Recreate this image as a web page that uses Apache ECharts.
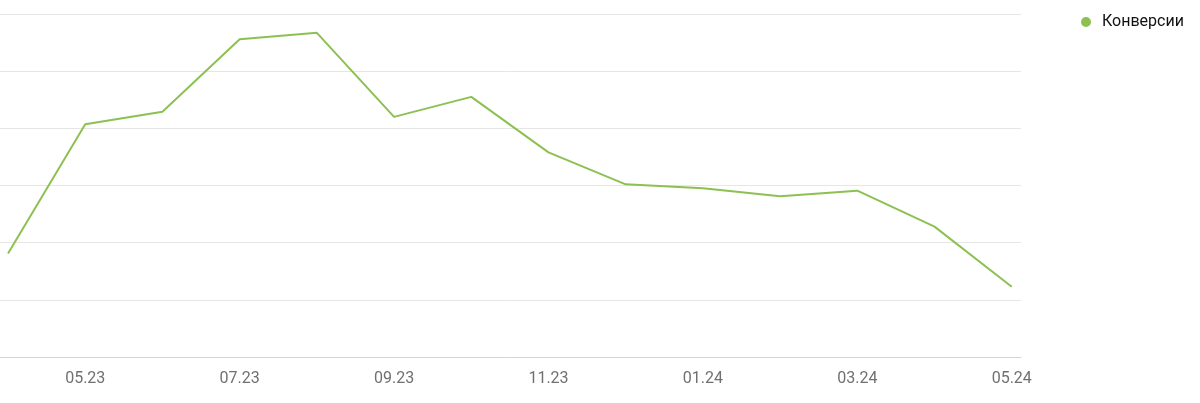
<!DOCTYPE html>
<html>
<head>
<meta charset="utf-8">
<script src="https://cdn.jsdelivr.net/npm/echarts@6/dist/echarts.min.js"></script>
<style>
html,body{margin:0;padding:0;background:#fff;}
#c{width:1200px;height:403px;}
</style>
</head>
<body>
<div id="c"></div>
<script>
const months = ['04.23','05.23','06.23','07.23','08.23','09.23','10.23','11.23','12.23','01.24','02.24','03.24','04.24','05.24'];
const conversions = [1.81, 4.07, 4.29, 5.56, 5.67, 4.20, 4.55, 3.58, 3.02, 2.95, 2.81, 2.91, 2.28, 1.23];
const labelIndices = [1, 3, 5, 7, 9, 11, 13];
const seriesName = 'Конверсии';

const chart = echarts.init(document.getElementById('c'), null, {renderer: 'canvas'});
chart.setOption({
  animation: false,
  textStyle: {fontFamily: 'Roboto'},
  grid: {left: 0, right: 179, top: 14, bottom: 46, containLabel: false},
  legend: {
    data: [seriesName],
    left: 1076, top: 9,
    icon: 'circle', itemWidth: 22, itemHeight: 10, itemGap: 6,
    textStyle: {color: '#111', fontSize: 16, fontFamily: 'Roboto'}
  },
  xAxis: {
    type: 'value',
    min: -0.104, max: 13.12,
    axisLine: {show: true, lineStyle: {color: '#ccd6eb', width: 1}},
    axisTick: {show: false},
    splitLine: {show: false},
    axisLabel: {
      customValues: labelIndices,
      formatter: v => months[Math.round(v)] || '',
      color: '#707070', fontSize: 16, margin: 14, fontFamily: 'Roboto'
    }
  },
  yAxis: {
    type: 'value', min: 0, max: 6, interval: 1,
    axisLine: {show: false}, axisTick: {show: false},
    axisLabel: {show: false},
    splitLine: {lineStyle: {color: '#e6e6e6', width: 1}}
  },
  series: [{
    name: seriesName, type: 'line',
    data: conversions.map((v, i) => [i, v]),
    showSymbol: false, symbol: 'circle',
    lineStyle: {color: '#8cc152', width: 2},
    itemStyle: {color: '#8cc152'}
  }]
});
</script>
</body>
</html>
